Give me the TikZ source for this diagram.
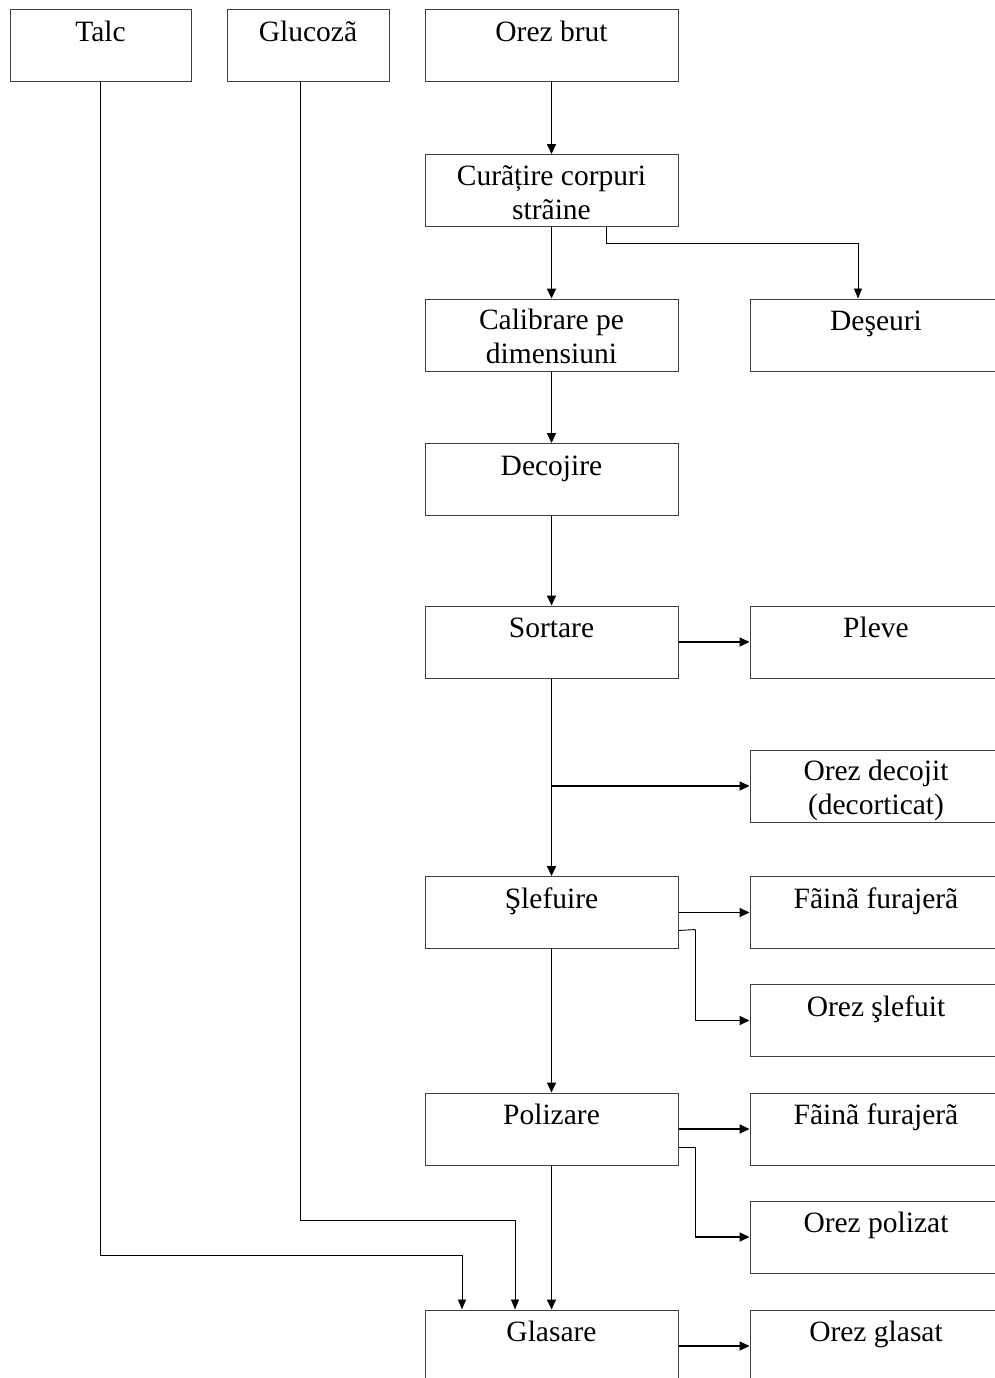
\documentclass[tikz,border=0pt]{standalone}
\usepackage{fontspec}
\setmainfont{Liberation Serif}
\usetikzlibrary{arrows.meta}
\begin{document}
\begin{tikzpicture}[x=1pt,y=-1pt,
  box/.style={draw=black!75,line width=1pt,rectangle,inner sep=0pt,minimum height=72pt},
  midbox/.style={box,minimum width=253pt},
  rbox/.style={box,minimum width=280pt},
  lbl/.style={anchor=base,inner sep=0pt,font=\fontsize{29.5}{34}\selectfont},
  main/.style={line width=1.7pt,-{Triangle[length=10pt,width=9pt]}},
  thinarr/.style={line width=0.9pt,-{Triangle[length=10pt,width=8pt]}}]
\useasboundingbox (0,0) rectangle (995,1378);
\clip (0,0) rectangle (995,1378);
% top row
\node[box,minimum width=181pt] (talc) at (100.5,46) {};
\node[box,minimum width=162pt] (gluc) at (308,46) {};
\node[midbox] (brut) at (551.5,46) {};
% middle column
\node[midbox] (cur) at (551.5,190.5) {};
\node[midbox] (cal) at (551.5,335) {};
\node[midbox] (dec) at (551.5,479.5) {};
\node[midbox] (sort) at (551.5,642) {};
\node[midbox] (slef) at (551.5,912.5) {};
\node[midbox] (pol) at (551.5,1129) {};
\node[midbox] (glas) at (551.5,1346) {};
% right column
\node[rbox] (des) at (890,335) {};
\node[rbox] (plev) at (890,642) {};
\node[rbox] (odec) at (890,786) {};
\node[rbox] (f1) at (890,912.5) {};
\node[rbox] (oslef) at (890,1020.5) {};
\node[rbox] (f2) at (890,1129) {};
\node[rbox] (opol) at (890,1237) {};
\node[rbox] (ogl) at (890,1346) {};
% labels
\node[lbl] (ttalc) at ([yshift=-32pt]talc.north) {Talc};
\node[lbl] (tgluc) at ([yshift=-32pt]gluc.north) {Glucozã};
\node[lbl] (tbrut) at ([yshift=-32pt]brut.north) {Orez brut};
\node[lbl] (tcur1) at ([yshift=-31pt]cur.north) {Curãțire corpuri};
\node[lbl] (tcur2) at ([yshift=-65pt]cur.north) {strãine};
\node[lbl] (tcal1) at ([yshift=-31pt]cal.north) {Calibrare pe};
\node[lbl] (tcal2) at ([yshift=-65pt]cal.north) {dimensiuni};
\node[lbl] (tdes) at ([yshift=-32pt,xshift=-14pt]des.north) {Deşeuri};
\node[lbl] (tdec) at ([yshift=-32pt]dec.north) {Decojire};
\node[lbl] (tsort) at ([yshift=-32pt]sort.north) {Sortare};
\node[lbl] (tplev) at ([yshift=-32pt,xshift=-14pt]plev.north) {Pleve};
\node[lbl] (todec1) at ([yshift=-31pt,xshift=-14pt]odec.north) {Orez decojit};
\node[lbl] (todec2) at ([yshift=-65pt,xshift=-14pt]odec.north) {(decorticat)};
\node[lbl] (tslef) at ([yshift=-32pt]slef.north) {Şlefuire};
\node[lbl] (tf1) at ([yshift=-32pt,xshift=-14pt]f1.north) {Fãinã furajerã};
\node[lbl] (toslef) at ([yshift=-32pt,xshift=-14pt]oslef.north) {Orez şlefuit};
\node[lbl] (tpol) at ([yshift=-32pt]pol.north) {Polizare};
\node[lbl] (tf2) at ([yshift=-32pt,xshift=-14pt]f2.north) {Fãinã furajerã};
\node[lbl] (topol) at ([yshift=-32pt,xshift=-14pt]opol.north) {Orez polizat};
\node[lbl] (tglas) at ([yshift=-32pt]glas.north) {Glasare};
\node[lbl] (togl) at ([yshift=-32pt,xshift=-14pt]ogl.north) {Orez glasat};
% connectors
\draw[main] (brut.south) -- (cur.north);
\draw[main] (cur.south) -- (cal.north);
\coordinate (dj) at (606,243);
\draw[thinarr] ([xshift=54.5pt]cur.south) -- (dj) -| ([xshift=-32pt]des.north);
\draw[main] (cal.south) -- (dec.north);
\draw[main] (dec.south) -- (sort.north);
\draw[main] (sort.east) -- (plev.west);
\draw[main] (sort.south) -- (slef.north);
\draw[main] (sort.south |- odec.west) -- (odec.west);
\draw[main] (slef.east) -- (f1.west);
\draw[line width=0.9pt] ([yshift=-18pt]slef.east) -- ++(17,-1) coordinate (sj);
\draw[main] (sj) -- (sj |- oslef.west) -- (oslef.west);
\draw[main] (slef.south) -- (pol.north);
\draw[main] (pol.east) -- (f2.west);
\draw[line width=0.9pt] ([yshift=-18pt]pol.east) -- ++(17,0) coordinate (pj);
\draw[main] (pj) -- (pj |- opol.west) -- (opol.west);
\draw[main] (pol.south) -- (glas.north);
\coordinate (gj) at (300,1220);
\draw[thinarr] ([xshift=-8pt]gluc.south) -- (gj) -| ([xshift=-36.5pt]glas.north);
\coordinate (tj) at (100,1255);
\draw[thinarr] ([xshift=-0.5pt]talc.south) -- (tj) -| ([xshift=-89.5pt]glas.north);
\draw[main] (glas.east) -- (ogl.west);
\end{tikzpicture}
\end{document}
